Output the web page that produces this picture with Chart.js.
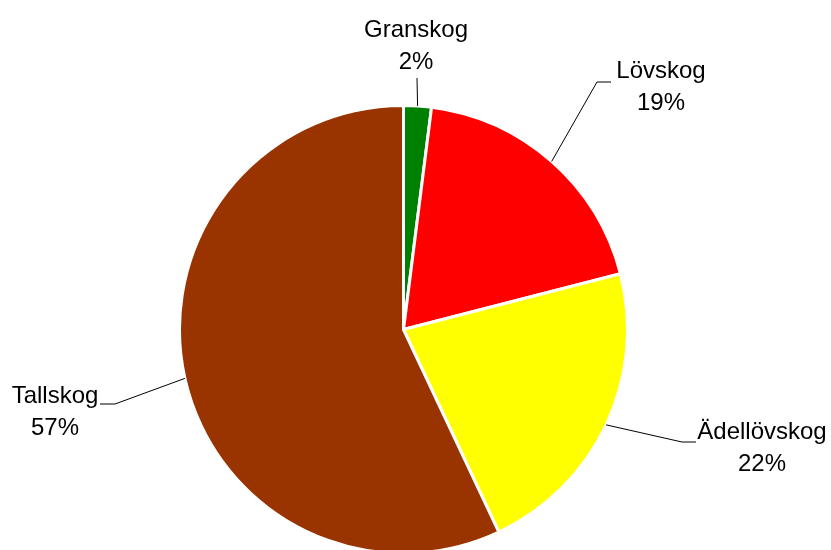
<!DOCTYPE html>
<html>
<head>
<meta charset="utf-8">
<script src="https://cdn.jsdelivr.net/npm/chart.js@4"></script>
<style>
  body { margin: 0; background: #fff; overflow: hidden; }
  canvas { display: block; }
</style>
</head>
<body>
<canvas id="myChart" width="831" height="556"></canvas>
<script>
const categories = ['Granskog', 'Lövskog', 'Ädellövskog', 'Tallskog'];
const shares = [2, 19, 22, 57];
const sliceColors = ['#008000', '#ff0000', '#ffff00', '#993300'];

// where each label block sits and where its leader line bends
const labelLayout = [
    { x: 416, y: 37, elbow: null },
    { x: 661, y: 78, elbow: [597, 82], stub: [611, 82] },
    { x: 762, y: 439, elbow: [682, 442], stub: [696, 442] },
    { x: 55, y: 403, elbow: [115, 404], stub: [100, 404] }
];

const labelPlugin = {
    id: 'pieLabels',
    afterDraw(chart) {
        const ctx = chart.ctx;
        const arcs = chart.getDatasetMeta(0).data;
        ctx.save();
        ctx.font = '24px "Liberation Sans", Arial, sans-serif';
        ctx.fillStyle = '#000';
        ctx.strokeStyle = '#000';
        ctx.lineWidth = 1;
        ctx.textAlign = 'center';
        ctx.textBaseline = 'alphabetic';
        arcs.forEach((arc, i) => {
            const p = arc.getProps(['x', 'y', 'startAngle', 'endAngle', 'outerRadius'], true);
            const mid = (p.startAngle + p.endAngle) / 2;
            const ax = p.x + Math.cos(mid) * p.outerRadius;
            const ay = p.y + Math.sin(mid) * p.outerRadius;
            const lay = labelLayout[i];
            ctx.beginPath();
            ctx.moveTo(ax, ay);
            if (lay.elbow) {
                ctx.lineTo(lay.elbow[0], lay.elbow[1]);
                ctx.lineTo(lay.stub[0], lay.stub[1]);
            } else {
                ctx.lineTo(lay.x + 1, lay.y + 41);
            }
            ctx.stroke();
            ctx.fillText(categories[i], lay.x, lay.y);
            ctx.fillText(shares[i] + '%', lay.x, lay.y + 32);
        });
        ctx.restore();
    }
};

const ctx = document.getElementById('myChart').getContext('2d');
const chart = new Chart(ctx, {
    type: 'pie',
    data: {
        labels: categories,
        datasets: [{
            data: shares,
            backgroundColor: sliceColors,
            borderColor: '#ffffff',
            borderWidth: 3
        }]
    },
    options: {
        responsive: false,
        animation: false,
        layout: {
            padding: { left: 178, right: 202, top: 104, bottom: 1 }
        },
        plugins: {
            legend: { display: false },
            tooltip: { enabled: false }
        }
    },
    plugins: [labelPlugin]
});
</script>
</body>
</html>
